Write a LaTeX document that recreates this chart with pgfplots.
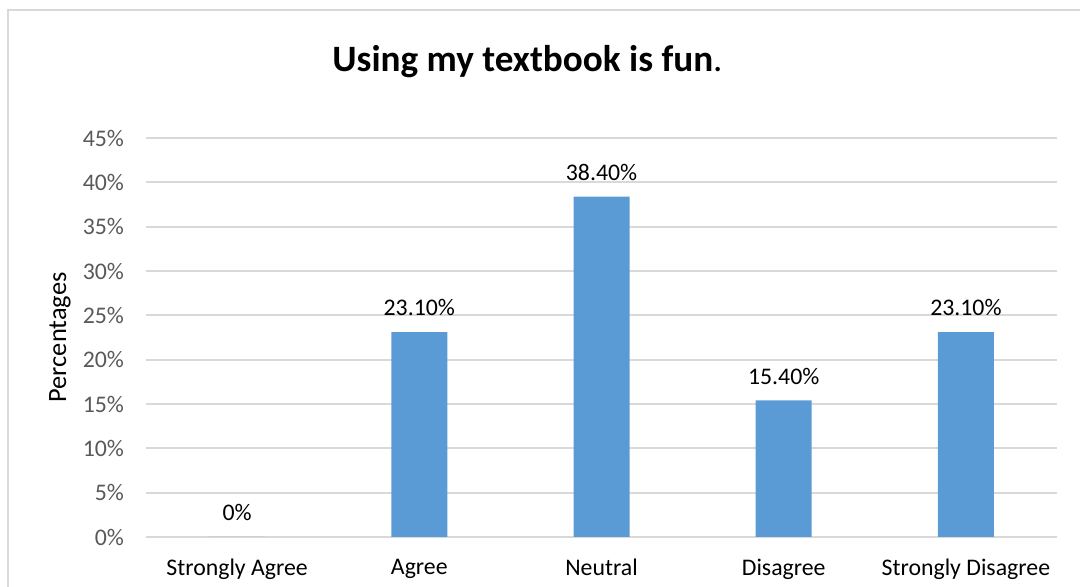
\documentclass[border=0pt]{standalone}
\usepackage{pgfplots}
\pgfplotsset{compat=1.18}
\usepackage{fontspec}
\setmainfont{Carlito}
\definecolor{barblue}{HTML}{5B9BD5}
\definecolor{gridgray}{HTML}{D9D9D9}
\definecolor{ticktext}{HTML}{595959}

\pgfplotstableread{
x val lab
0 0    0\%
1 23.1 23.10\%
2 38.4 38.40\%
3 15.4 15.40\%
4 23.1 23.10\%
}\answers

\begin{document}
\begin{tikzpicture}
\path[use as bounding box] (0,0) rectangle (540pt,293.5pt);
\draw[gridgray, line width=1pt] (4pt,-2pt) -- (4pt,288.5pt) -- (542pt,288.5pt);
\node[anchor=base, font=\fontsize{18.6}{22}\selectfont] at (263.75pt,257.5pt)
  {{\bfseries Using my textbook is fun}.};
\begin{axis}[
  at={(73pt,25pt)}, anchor=south west,
  scale only axis, width=455.5pt, height=199.5pt,
  ybar, bar width=28pt,
  xmin=-0.5, xmax=4.5, ymin=0, ymax=45,
  xtick=data,
  xticklabels={Strongly Agree,Agree,Neutral,Disagree,Strongly Disagree},
  ytick={0,5,...,45},
  yticklabels={0\%,5\%,10\%,15\%,20\%,25\%,30\%,35\%,40\%,45\%},
  axis line style={draw=none},
  major tick length=0pt,
  ymajorgrids,
  grid style={gridgray, line width=0.9pt},
  font=\fontsize{11.9}{14}\selectfont,
  yticklabel style={text=ticktext, xshift=-7.5pt},
  xticklabel style={text=black, yshift=-7.5pt},
  ylabel={Percentages},
  ylabel style={at={(axis description cs:-0.0944,0.5)}, anchor=center, rotate=0,
    font=\fontsize{13.2}{15}\selectfont},
  nodes near coords,
  point meta=explicit symbolic,
  every node near coord/.append style={text=black, yshift=4.5pt},
]
\addplot[fill=barblue, draw=none] table[x=x, y=val, meta=lab] {\answers};
\end{axis}
\end{tikzpicture}
\end{document}
